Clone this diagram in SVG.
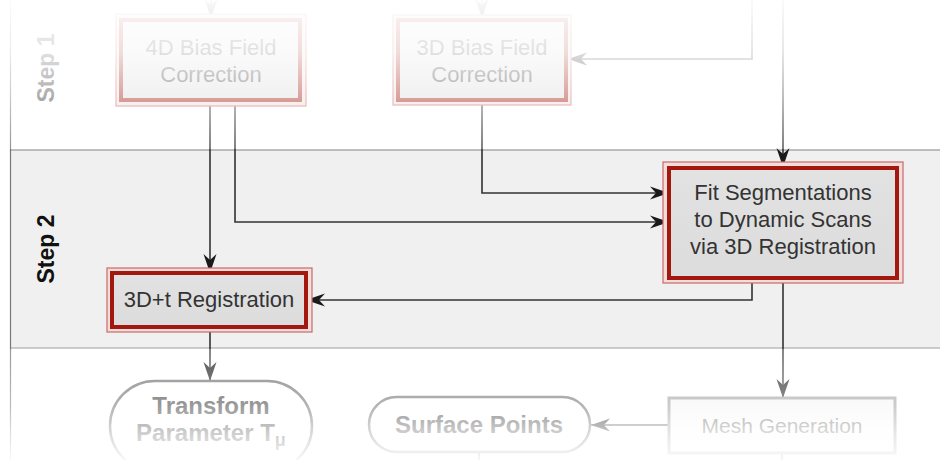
<svg xmlns="http://www.w3.org/2000/svg" width="940" height="460" viewBox="0 0 940 460">
  <defs>
    <style>
      .lane-label { font-family: "Liberation Sans", Arial, sans-serif; font-weight: bold; font-size: 23px; text-anchor: middle; }
      .box-outer { fill: #f2dcdc; stroke: #c96a66; stroke-width: 1.2; }
      .box-inner { fill: url(#boxFill); stroke: #a2180e; stroke-width: 4; }
      .box-text { font-family: "Liberation Sans", Arial, sans-serif; font-size: 22px; fill: #333; text-anchor: middle; }
      .pill { fill: #ffffff; stroke: #666; stroke-width: 2.5; }
      .pill-text { font-family: "Liberation Sans", Arial, sans-serif; font-weight: bold; font-size: 24px; fill: #333; text-anchor: middle; }
      .plain-box { fill: url(#plainFill); stroke: #999; stroke-width: 3; }
      .plain-text { font-family: "Liberation Sans", Arial, sans-serif; font-size: 21px; fill: #666; text-anchor: middle; }
      .conn { fill: none; stroke: #333; stroke-width: 1.6; marker-end: url(#arrow); }
      .conn-plain { fill: none; stroke: #333; stroke-width: 1.6; }
    </style>
    <linearGradient id="boxFill" x1="0" y1="0" x2="0" y2="1">
      <stop offset="0" stop-color="#e2e2e2"/>
      <stop offset="1" stop-color="#dcdcdc"/>
    </linearGradient>
    <linearGradient id="plainFill" x1="0" y1="0" x2="0" y2="1">
      <stop offset="0" stop-color="#f4f4f4"/>
      <stop offset="1" stop-color="#ffffff"/>
    </linearGradient>
    <linearGradient id="fadeTop" x1="0" y1="0" x2="0" y2="1">
      <stop offset="0" stop-color="#fff" stop-opacity="0.97"/>
      <stop offset="0.35" stop-color="#fff" stop-opacity="0.85"/>
      <stop offset="0.65" stop-color="#fff" stop-opacity="0.6"/>
      <stop offset="1" stop-color="#fff" stop-opacity="0.22"/>
    </linearGradient>
    <linearGradient id="fadeBottom" x1="0" y1="0" x2="0" y2="1">
      <stop offset="0" stop-color="#fff" stop-opacity="0.25"/>
      <stop offset="0.29" stop-color="#fff" stop-opacity="0.4"/>
      <stop offset="0.51" stop-color="#fff" stop-opacity="0.5"/>
      <stop offset="0.75" stop-color="#fff" stop-opacity="0.75"/>
      <stop offset="1" stop-color="#fff" stop-opacity="0.95"/>
    </linearGradient>
    <marker id="arrow" markerUnits="userSpaceOnUse" markerWidth="20" markerHeight="14" viewBox="0 -7 20 14" refX="19" refY="0" orient="auto">
      <path d="M0,-6.5 L19,0 L0,6.5 L6,0 Z" fill="#1a1a1a"/>
    </marker>
  </defs>

  <rect x="0" y="0" width="940" height="460" fill="#ffffff"/>

  <!-- swimlanes -->
  <g id="lanes">
    <rect x="10" y="150" width="930" height="198" fill="#f0f0f0"/>
    <line x1="10" y1="150" x2="940" y2="150" stroke="#aaa" stroke-width="1.5"/>
    <line x1="10" y1="348" x2="940" y2="348" stroke="#bbb" stroke-width="1.5"/>
    <line x1="10.5" y1="0" x2="10.5" y2="460" stroke="#777" stroke-width="1.2"/>
    <text class="lane-label" transform="translate(54,68) rotate(-90)" fill="#333">Step 1</text>
    <text class="lane-label" transform="translate(54,249) rotate(-90)" fill="#111">Step 2</text>
  </g>

  <!-- connectors -->
  <g id="connectors">
    <path class="conn" d="M211,0 V18"/>
    <path class="conn" d="M482,0 V18"/>
    <path class="conn" d="M752,0 V59 H568"/>
    <path class="conn" d="M783,0 V167"/>
    <path class="conn" d="M210,100 V273"/>
    <path class="conn" d="M235,100 V222 H669"/>
    <path class="conn" d="M482,100 V193 H669"/>
    <path class="conn" d="M752,278 V300 H306"/>
    <path class="conn" d="M783,278 V398"/>
    <path class="conn" d="M210,327 V381"/>
    <path class="conn" d="M669,425 H591"/>
    <path class="conn-plain" d="M479,452 V460"/>
    <path class="conn-plain" d="M782,453 V460"/>
  </g>

  <!-- Step 1 nodes -->
  <g id="bias4d">
    <rect class="box-outer" x="116" y="14" width="190" height="92"/>
    <rect class="box-inner" x="121" y="20" width="179" height="80"/>
    <text class="box-text" x="211" y="55" font-size="21">4D Bias Field</text>
    <text class="box-text" x="211" y="82" font-size="21">Correction</text>
  </g>
  <g id="bias3d">
    <rect class="box-outer" x="393" y="15" width="178" height="90"/>
    <rect class="box-inner" x="398" y="20" width="168" height="80"/>
    <text class="box-text" x="482" y="55" font-size="21">3D Bias Field</text>
    <text class="box-text" x="482" y="82" font-size="21">Correction</text>
  </g>

  <!-- Step 2 nodes -->
  <g id="fitSegmentations">
    <rect class="box-outer" x="663" y="162" width="240" height="121"/>
    <rect class="box-inner" x="669" y="168" width="228" height="110"/>
    <text class="box-text" x="783" y="200">Fit Segmentations</text>
    <text class="box-text" x="783" y="227">to Dynamic Scans</text>
    <text class="box-text" x="783" y="254">via 3D Registration</text>
  </g>
  <g id="registration3dt">
    <rect class="box-outer" x="107" y="268" width="205" height="64"/>
    <rect class="box-inner" x="112" y="273" width="194" height="54"/>
    <text class="box-text" x="209" y="307">3D+t Registration</text>
  </g>

  <!-- Step 3 nodes -->
  <g id="transformParameter">
    <rect class="pill" x="110" y="381" width="202" height="90" rx="45"/>
    <text class="pill-text" x="211" y="414">Transform</text>
    <text class="pill-text" x="211" y="441">Parameter T<tspan font-size="18" dy="5">μ</tspan></text>
  </g>
  <g id="surfacePoints">
    <rect class="pill" x="369" y="397" width="221" height="55" rx="27.5"/>
    <text class="pill-text" x="479" y="433">Surface Points</text>
  </g>
  <g id="meshGeneration">
    <rect class="plain-box" x="669" y="398" width="226" height="55"/>
    <text class="plain-text" x="782" y="433">Mesh Generation</text>
  </g>

  <!-- soft fade towards the top and bottom edges -->
  <g id="fade">
    <rect x="0" y="0" width="940" height="149" fill="url(#fadeTop)"/>
    <rect x="0" y="349" width="940" height="111" fill="url(#fadeBottom)"/>
  </g>
</svg>
